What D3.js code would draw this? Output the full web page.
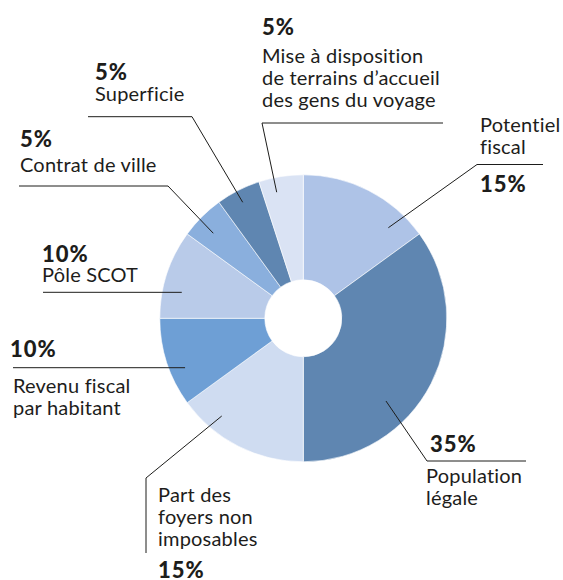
<!DOCTYPE html>
<html>
<head>
<meta charset="utf-8">
<script src="https://cdn.jsdelivr.net/npm/d3@7"></script>
<style>
  body { margin: 0; background: #fff; }
  svg text { font-family: Lato, "Open Sans", sans-serif; fill: #1d1d1b; }
  .name { font-size: 20px; letter-spacing: 0.2px; }
  .pct { font-size: 22px; font-weight: 900; letter-spacing: 1px; }
</style>
</head>
<body>
<div id="chart"></div>
<script>
// donnees
var categories = ["Potentiel fiscal", "Population légale", "Part des foyers non imposables",
  "Revenu fiscal par habitant", "Pôle SCOT", "Contrat de ville", "Superficie",
  "Mise à disposition de terrains d’accueil des gens du voyage"];
var values = [15, 35, 15, 10, 10, 5, 5, 5];
var pctLabels = ["15%", "35%", "15%", "10%", "10%", "5%", "5%", "5%"];
var nameLines = [
  ["Potentiel", "fiscal"],
  ["Population", "légale"],
  ["Part des", "foyers non", "imposables"],
  ["Revenu fiscal", "par habitant"],
  ["Pôle SCOT"],
  ["Contrat de ville"],
  ["Superficie"],
  ["Mise à disposition", "de terrains d’accueil", "des gens du voyage"]
];

var colors = ["#aec3e7", "#5f86b1", "#cfdcf1", "#6e9fd5", "#b9cbe9", "#8aafdd", "#5f86b1", "#dae3f4"];

// mise en page des etiquettes (x, ligne de base, trait)
var layout = [
  {pct: [480, 192], names: [480, 132], line: [[543, 164.5], [477, 164.5]], t: 0.80, rf: 0.866},
  {pct: [430, 452], names: [426, 483], line: [[526, 461], [427, 461]], t: 0.643, rf: 0.815},
  {pct: [158, 578], names: [158, 502], line: [[146, 553], [146, 478]], t: 0.738, rf: 0.887},
  {pct: [10, 357], names: [13, 393], line: [[13, 367.7]], t: 0.37, rf: 0.893},
  {pct: [42, 262], names: [42, 282], line: [[43, 292.3]], t: 0.335, rf: 0.866},
  {pct: [20, 147], names: [20, 172], line: [[19, 186], [168, 186]], t: 0.41, rf: 0.863},
  {pct: [95, 80], names: [95, 101], line: [[88, 116.7], [192, 116.7]], t: 0.468, rf: 0.912},
  {pct: [262, 35], names: [262, 63], line: [[443, 123], [262, 123]], t: 0.338, rf: 0.898}
];
var lineGap = 22;

var width = 563, height = 580;
var cx = 303.3, cy = 318.3;
var outerR = 143.5, innerR = 38.5;

var svg = d3.select("#chart").append("svg").attr("width", width).attr("height", height);
var g = svg.append("g").attr("transform", "translate(" + cx + "," + cy + ")");

var pie = d3.pie().sort(null).value(function(d) { return d; });
var arc = d3.arc().innerRadius(innerR).outerRadius(outerR);
var arcs = pie(values);

g.selectAll(".slice")
  .data(arcs)
  .enter().append("path")
    .attr("class", "slice")
    .attr("d", arc)
    .attr("fill", function(d, i) { return colors[i]; })
    .attr("stroke", "#fff")
    .attr("stroke-width", 0.6);

// traits de rappel
var leader = d3.line();
arcs.forEach(function(d, i) {
  var L = layout[i];
  var a = d.startAngle + L.t * (d.endAngle - d.startAngle);
  var r = L.rf * outerR;
  var anchor = [cx + r * Math.sin(a), cy - r * Math.cos(a)];
  var pts = L.line.concat([anchor]);
  svg.append("path")
    .attr("d", leader(pts))
    .attr("fill", "none")
    .attr("stroke", "#1d1d1b")
    .attr("stroke-width", 1);

  svg.append("text").attr("class", "pct")
    .attr("x", L.pct[0]).attr("y", L.pct[1])
    .text(pctLabels[i]);

  var t = svg.append("text").attr("class", "name");
  nameLines[i].forEach(function(s, j) {
    t.append("tspan").attr("x", L.names[0]).attr("y", L.names[1] + j * lineGap).text(s);
  });
});
</script>
</body>
</html>
